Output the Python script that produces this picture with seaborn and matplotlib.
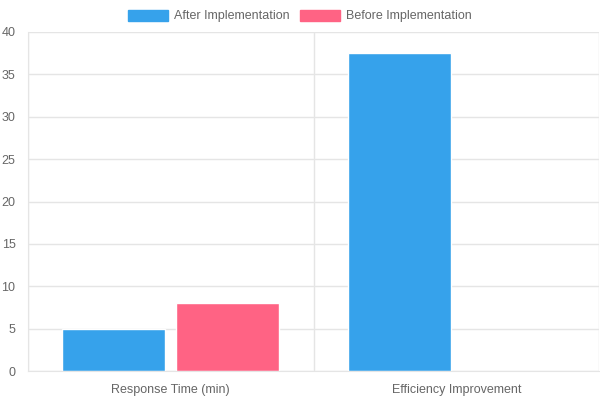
import pandas as pd
import numpy as np
import seaborn as sns
import matplotlib.pyplot as plt
from matplotlib.ticker import FixedLocator
from matplotlib.patches import Patch

categories = ["Response Time (min)", "Efficiency Improvement"]
after_values = [5, 37.5]
before_values = [8, np.nan]
series_names = ["After Implementation", "Before Implementation"]
colors = ["#36A2EB", "#FF6384"]

df = pd.DataFrame({
    "category": categories * 2,
    "value": after_values + before_values,
    "series": [series_names[0]] * 2 + [series_names[1]] * 2,
})

sns.set_style("white")
plt.rcParams["font.family"] = ["Liberation Sans", "DejaVu Sans"]

fig = plt.figure(figsize=(6, 4), dpi=100)
ax = fig.add_axes([28 / 600, 29 / 400, 571 / 600, 339 / 400])

sns.barplot(data=df, x="category", y="value", hue="series", order=categories,
            hue_order=series_names, palette=colors, width=0.8, gap=0.1,
            saturation=1, ax=ax, legend=False)

ax.set_xlim(-0.5, 1.5)
ax.set_ylim(0, 40)
ax.set_yticks(range(0, 41, 5))
ax.xaxis.set_minor_locator(FixedLocator([-0.5, 0.5, 1.5]))
ax.set_xlabel("")
ax.set_ylabel("")

grid_c = "#e5e5e5"
ax.grid(axis="y", color=grid_c, linewidth=1)
ax.grid(axis="x", which="minor", color=grid_c, linewidth=1)
ax.set_axisbelow(True)
for s in ["top", "right"]:
    ax.spines[s].set_visible(False)
ax.spines["left"].set_color(grid_c)
ax.spines["bottom"].set_color(grid_c)

ax.tick_params(axis="x", which="major", length=0, pad=9, labelsize=9, labelcolor="#666666")
ax.tick_params(axis="x", which="minor", length=7, color=grid_c)
ax.tick_params(axis="y", length=5, color=grid_c, pad=4, labelsize=9, labelcolor="#666666")

# legend on top, chart.js style
handles = [Patch(facecolor=c, edgecolor=c) for c in colors]
fig.legend(handles, series_names, loc="center", bbox_to_anchor=(0.5, 0.96), ncol=2,
           frameon=False, fontsize=9, labelcolor="#666666", handlelength=3.2,
           handleheight=1.0, columnspacing=0.8, handletextpad=0.5)

fig.savefig("out.png", dpi=100)
